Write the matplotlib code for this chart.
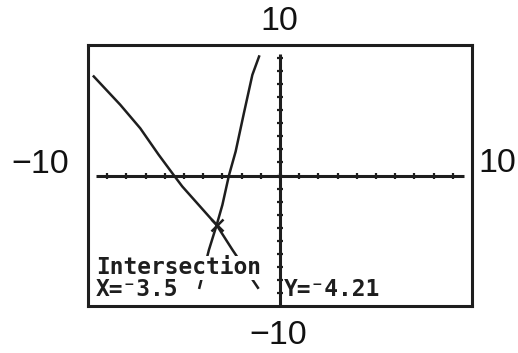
import matplotlib
matplotlib.use("Agg")
import matplotlib.pyplot as plt

# window
x_min, x_max = -10, 10
y_min, y_max = -10, 10

# curves
line1_x = [-9.70, -8.32, -7.28, -6.32, -5.52, -5.09, -3.3, -2.48, -1.15]
line1_y = [7.59, 5.42, 3.62, 1.59, 0.0, -0.84, -3.8, -5.69, -8.6]
line2_x = [-4.2, -3.70, -3.3, -3.0, -2.66, -2.31, -1.88, -1.44, -1.09]
line2_y = [-8.6, -5.69, -3.8, -2.25, 0.0, 1.84, 4.78, 7.71, 9.12]

# cursor on screen and the readout
cursor_x, cursor_y = -3.3, -3.8
x_label = "X=\u207b3.5"
y_label = "Y=\u207b4.21"

ink = "#1e1e1e"

fig = plt.figure(figsize=(5.18, 3.53), dpi=100)
ax = fig.add_axes([88 / 518, 1 - 306 / 353, (472 - 88) / 518, (306 - 45) / 353])
ax.set_xlim(x_min, x_max)
ax.set_ylim(y_min, y_max)
ax.set_xticks([])
ax.set_yticks([])
for s in ax.spines.values():
    s.set_linewidth(2.2)
    s.set_color(ink)

# axes with tick marks every unit
ax.hlines(0, -9.6, 9.6, color=ink, lw=2.2, zorder=2)
ax.vlines(0, -10, 9.3, color=ink, lw=2.2, zorder=2)
ax.plot(range(-9, 10), [0] * 19, ls="none", marker="|", ms=5, mew=1.6, color=ink)
ax.plot([0] * 19, range(-9, 10), ls="none", marker="_", ms=5, mew=1.6, color=ink)

ax.plot(line1_x, line1_y, color=ink, lw=1.8, zorder=3)
ax.plot(line2_x, line2_y, color=ink, lw=1.8, zorder=3)
ax.plot([cursor_x], [cursor_y], marker="x", ms=8, mew=1.8, color=ink, zorder=4)

mono = ["DejaVu Sans Mono", "DejaVu Sans"]
bg = dict(facecolor="white", edgecolor="none", pad=0.5)
txt = dict(family=mono, fontsize=16.5, fontweight="bold", color=ink,
           va="top", ha="left", bbox=bg, zorder=5)
ax.text(-9.6, -6.2, "Intersection", **txt)
ax.text(-9.6, -7.85, x_label, **txt)
ax.text(0.2, -7.85, y_label, **txt)

# window bounds around the screen
big = dict(family="Liberation Sans", fontsize=24.5, color="#111111")
fig.text(279 / 518, 1 - 21 / 353, "10", ha="center", va="center", **big)
fig.text(40 / 518, 1 - 165 / 353, "\u221210", ha="center", va="center", **big)
fig.text(497 / 518, 1 - 164 / 353, "10", ha="center", va="center", **big)
fig.text(278 / 518, 1 - 336 / 353, "\u221210", ha="center", va="center", **big)

fig.savefig("out.png", dpi=100)
